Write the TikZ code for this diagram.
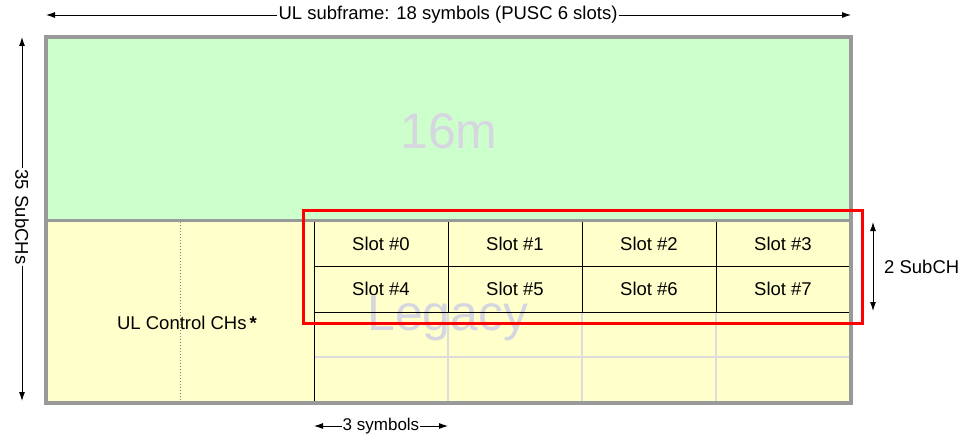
\documentclass[tikz,border=0pt]{standalone}
\usepackage{fontspec}
\setmainfont{Liberation Sans}
\usetikzlibrary{arrows.meta}
\definecolor{greenzone}{RGB}{204,255,204}
\definecolor{yellowzone}{RGB}{255,255,204}
\definecolor{framegray}{RGB}{153,153,153}
\definecolor{ghost}{RGB}{214,214,224}
\definecolor{gridgray}{RGB}{221,221,221}
\begin{document}
\begin{tikzpicture}[x=1pt,y=-1pt,
  lbl/.style={font=\fontsize{18.5}{20}\selectfont, inner sep=1pt},
  arr/.style={-{Latex[length=9pt,width=6pt]}, line width=0.9pt},
  ghosttext/.style={text=ghost, font=\fontsize{50}{50}\selectfont, anchor=base, inner sep=0pt},
  blackline/.style={black, line width=0.9pt},
  grayline/.style={gridgray, line width=1.3pt}]
\useasboundingbox (0,0) rectangle (963,436);
% zones
\fill[greenzone] (46,37) rectangle (851,220);
\fill[yellowzone] (46,220) rectangle (851,403);
% ghost labels
\node[ghosttext] (g16m) at (449,148) {16m};
\node[ghosttext] (legacy) at (448,330) {Legacy};
% grid
\draw[grayline] (314,357) -- (850,357);
\foreach \x in {448,582,716} \draw[grayline] (\x,312) -- (\x,403);
\draw[blackline] (314,221) -- (314,403);
\draw[blackline] (314,266) -- (850,266);
\draw[blackline] (314,312) -- (850,312);
\foreach \x in {448,582,716} \draw[blackline] (\x,221) -- (\x,312);
\draw[gray, dotted, line width=1pt] (180,222) -- (180,400);
% frame
\draw[framegray, line width=3pt] (46,220) -- (851,220);
\draw[framegray, line width=4pt] (46,37) rectangle (851,403);
% red box
\draw[red, line width=3pt] (303,210) rectangle (862,323);
% slots
\node[lbl] (s0) at (381,243.5) {Slot \#0};
\node[lbl] (s1) at (515,243.5) {Slot \#1};
\node[lbl] (s2) at (649,243.5) {Slot \#2};
\node[lbl] (s3) at (783,243.5) {Slot \#3};
\node[lbl] (s4) at (381,289) {Slot \#4};
\node[lbl] (s5) at (515,289) {Slot \#5};
\node[lbl] (s6) at (649,289) {Slot \#6};
\node[lbl] (s7) at (783,289) {Slot \#7};
\node[lbl] (ctrl) at (187,323) {UL Control CHs\,\textbf{*}};
% top dimension
\node[lbl] (ultitle) at (448,15) {UL subframe: 18 symbols (PUSC 6 slots)};
\coordinate (topL) at (46,15);
\coordinate (topR) at (851,15);
\draw[arr] (ultitle.west) -- (topL);
\draw[arr] (ultitle.east) -- (topR);
% left dimension
\node[lbl, rotate=-90] (subchs) at (22,217) {35 SubCHs};
\coordinate (leftT) at (22,37);
\coordinate (leftB) at (22,401);
\draw[arr] (subchs.west) -- (leftT);
\draw[arr] (subchs.east) -- (leftB);
% right dimension
\coordinate (rT) at (873,222);
\coordinate (rB) at (873,311);
\draw[arr, {Latex[length=9pt,width=6pt]}-{Latex[length=9pt,width=6pt]}] (rT) -- (rB);
\node[lbl, anchor=west] (twosub) at (883,267) {2 SubCH};
% bottom dimension
\node[lbl, font=\fontsize{17}{18}\selectfont] (three) at (381,426) {3 symbols};
\coordinate (bL) at (314,426);
\coordinate (bR) at (448,426);
\draw[arr] (three.west) -- (bL);
\draw[arr] (three.east) -- (bR);
\end{tikzpicture}
\end{document}
